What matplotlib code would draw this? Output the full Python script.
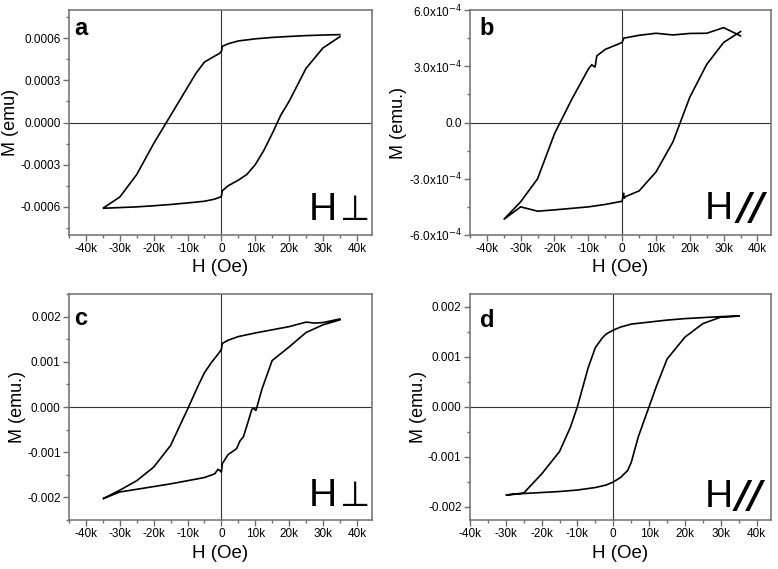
import matplotlib
matplotlib.use("Agg")
import matplotlib.pyplot as plt
import numpy as np
from matplotlib.ticker import FixedLocator, MultipleLocator, FuncFormatter

plt.rcParams["font.family"] = ["Liberation Sans", "DejaVu Sans"]

# H in kOe, M in units given per panel
a_down_h = [35, 30, 25, 20, 15, 10, 5, 2, 0.3, 0, -0.5, -2, -5, -7.5, -10, -12.5, -15, -20, -25, -30, -35]
a_down_m = [6.25, 6.22, 6.18, 6.12, 6.05, 5.95, 5.8, 5.6, 5.42, 5.05, 4.92, 4.72, 4.3, 3.5, 2.5, 1.5, 0.5, -1.5, -3.7, -5.3, -6.1]
a_up_h = [-35, -30, -25, -20, -15, -10, -5, -2, -0.3, 0, 0.3, 2, 5, 7.5, 10, 12.5, 15, 17.5, 20, 25, 30, 35]
a_up_m = [-6.1, -6.05, -6.0, -5.92, -5.83, -5.72, -5.6, -5.45, -5.3, -5.25, -4.85, -4.5, -4.1, -3.7, -3.0, -2.0, -0.8, 0.5, 1.5, 3.85, 5.3, 6.1]

b_down_h = [35, 30, 25, 20, 15, 10, 5, 0.5, 0, -2, -5, -7.5, -8, -9, -10, -15, -20, -25, -30, -35]
b_down_m = [4.62, 5.06, 4.76, 4.75, 4.67, 4.76, 4.65, 4.5, 4.27, 4.12, 3.9, 3.55, 2.95, 3.08, 2.85, 1.2, -0.6, -3.0, -4.23, -5.17]
b_up_h = [-35, -30, -25, -20, -15, -10, -5, 0, 0.4, 0.6, 1, 5, 10, 15, 20, 25, 30, 35]
b_up_m = [-5.17, -4.5, -4.73, -4.66, -4.58, -4.5, -4.37, -4.2, -3.75, -4.05, -3.95, -3.65, -2.64, -1.04, 1.35, 3.1, 4.27, 4.85]

c_down_h = [35, 30, 27.5, 25, 20, 15, 10, 5, 2, 0.3, 0, -0.5, -1, -3, -5, -7, -10, -15, -20, -25, -30, -35]
c_down_m = [1.95, 1.87, 1.86, 1.88, 1.78, 1.71, 1.64, 1.56, 1.48, 1.41, 1.28, 1.22, 1.17, 0.98, 0.76, 0.45, -0.05, -0.85, -1.33, -1.63, -1.84, -2.03]
c_up_h = [-35, -30, -25, -20, -15, -10, -5, -2, -1, -0.5, 0, 0.3, 2, 3, 4.5, 5.5, 6.5, 8, 9, 9.7, 10.2, 10.5, 12, 15, 20, 25, 30, 35]
c_up_m = [-2.03, -1.88, -1.82, -1.76, -1.70, -1.63, -1.56, -1.48, -1.38, -1.40, -1.44, -1.25, -1.05, -1.0, -0.92, -0.75, -0.66, -0.3, -0.05, -0.03, -0.08, 0.0, 0.4, 1.03, 1.33, 1.65, 1.82, 1.93]

d_down_h = [35, 30, 25, 20, 15, 10, 5, 2, 0, -2, -3, -5, -7, -10, -12, -15, -20, -25, -30]
d_down_m = [1.81, 1.80, 1.78, 1.76, 1.73, 1.69, 1.65, 1.59, 1.53, 1.45, 1.38, 1.18, 0.78, 0.0, -0.42, -0.9, -1.35, -1.73, -1.77]
d_up_h = [-30, -25, -20, -15, -10, -5, -2, 0, 2, 4, 5, 7, 10, 12, 15, 20, 25, 30, 35]
d_up_m = [-1.77, -1.74, -1.72, -1.70, -1.67, -1.62, -1.57, -1.51, -1.42, -1.28, -1.12, -0.6, 0.0, 0.4, 0.95, 1.39, 1.66, 1.79, 1.81]

x_ticks = [-40000, -30000, -20000, -10000, 0, 10000, 20000, 30000, 40000]

a_yticks = [-0.0006, -0.0003, 0.0, 0.0003, 0.0006]
a_ylabels = ["-0.0006", "-0.0003", "0.0000", "0.0003", "0.0006"]
b_yticks = [-6e-4, -3e-4, 0.0, 3e-4, 6e-4]
b_ylabels = [r"-6.0x10$^{-4}$", r"-3.0x10$^{-4}$", "0.0", r"3.0x10$^{-4}$", r"6.0x10$^{-4}$"]
cd_yticks = [-0.002, -0.001, 0.0, 0.001, 0.002]
cd_ylabels = ["-0.002", "-0.001", "0.000", "0.001", "0.002"]

SPINE = "#6e6e6e"


def kfmt(v, pos):
    if abs(v) < 1:
        return "0"
    return f"{int(round(v / 1000))}k"


def panel(rect, down_h, down_m, up_h, up_m, scale, xlim, ylim, yticks, ylabels,
          yminor, ylabel, letter, letter_pos, sym, sym_style, sym_x, h_x, base_y):
    ax = fig.add_axes(rect)
    h = np.array(down_h + up_h) * 1000
    m = np.array(down_m + up_m) * scale
    ax.plot(h, m, color="black", lw=1.2, solid_joinstyle="miter")
    ax.axvline(0, color="#333333", lw=0.8, zorder=0)
    ax.axhline(0, color="#333333", lw=0.8, zorder=0)
    ax.set_xlim(*xlim)
    ax.set_ylim(*ylim)
    ax.xaxis.set_major_locator(FixedLocator(x_ticks))
    ax.xaxis.set_minor_locator(MultipleLocator(5000))
    ax.xaxis.set_major_formatter(FuncFormatter(kfmt))
    ax.yaxis.set_major_locator(FixedLocator(yticks))
    ax.set_yticklabels(ylabels)
    ax.yaxis.set_minor_locator(MultipleLocator(yminor))
    for s in ax.spines.values():
        s.set_color(SPINE)
        s.set_linewidth(1.1)
    ax.tick_params(which="major", direction="out", length=4, width=1, color=SPINE,
                   labelsize=8.5, pad=2, top=False, right=False)
    ax.tick_params(which="minor", direction="out", length=2.5, width=1, color=SPINE,
                   top=False, right=False)
    ax.set_xlabel("H (Oe)", fontsize=13.5, labelpad=3)
    ax.set_ylabel(ylabel, fontsize=13, labelpad=1)
    ax.text(letter_pos[0], letter_pos[1], letter, transform=ax.transAxes,
            fontsize=17, fontweight="bold", va="baseline", ha="left")
    ax.text(h_x, base_y, "H", transform=ax.transAxes, fontsize=28,
            family=["Liberation Sans Narrow", "Liberation Sans", "DejaVu Sans"],
            va="baseline", ha="left")
    ax.text(sym_x, base_y, sym, transform=ax.transAxes, va="baseline", ha="right",
            **sym_style)
    return ax


fig = plt.figure(figsize=(7.78, 5.69), dpi=100)

perp = dict(fontsize=25, family=["DejaVu Sans"])
para = dict(fontsize=27, family=["DejaVu Sans"], fontweight="bold", fontstyle="italic")

panel([0.0887, 0.587, 0.3895, 0.3954], a_down_h, a_down_m, a_up_h, a_up_m, 1e-4,
      (-45000, 44500), (-0.0008, 0.0008), a_yticks, a_ylabels, 0.00015, "M (emu)",
      "a", (0.017, 0.889), "\u22a5", perp, 0.993, 0.79, 0.067)
panel([0.604, 0.587, 0.387, 0.3954], b_down_h, b_down_m, b_up_h, b_up_m, 1e-4,
      (-45000, 44000), (-6e-4, 6e-4), b_yticks, b_ylabels, 1.5e-4, "M (emu.)",
      "b", (0.033, 0.889), "//", para, 0.98, 0.78, 0.07)
panel([0.0887, 0.0861, 0.3895, 0.397], c_down_h, c_down_m, c_up_h, c_up_m, 1e-3,
      (-45000, 44500), (-0.0025, 0.0025), cd_yticks, cd_ylabels, 0.0005, "M (emu.)",
      "c", (0.017, 0.863), "\u22a5", perp, 0.993, 0.79, 0.06)
panel([0.604, 0.0861, 0.387, 0.397], d_down_h, d_down_m, d_up_h, d_up_m, 1e-3,
      (-40000, 44000), (-0.00227, 0.00225), cd_yticks, cd_ylabels, 0.0005, "M (emu.)",
      "d", (0.033, 0.855), "//", para, 0.974, 0.78, 0.059)

fig.savefig("out.png", dpi=100)
